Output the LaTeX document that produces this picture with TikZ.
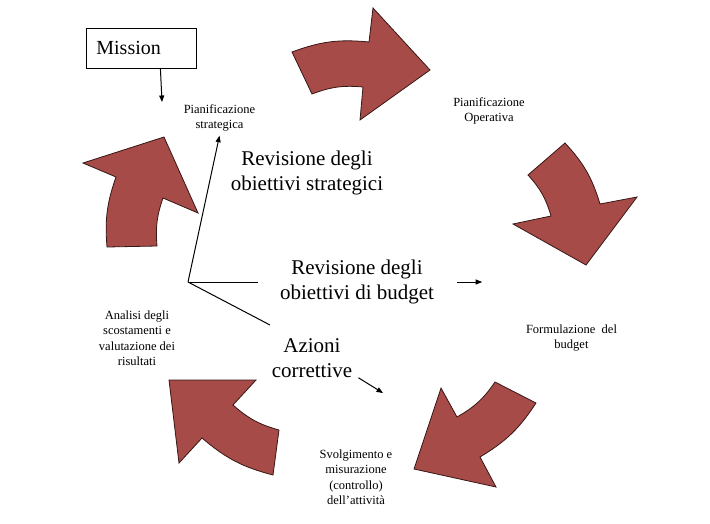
\documentclass[tikz,border=0pt]{standalone}
\usepackage{fontspec}
\setmainfont{Liberation Serif}
\usetikzlibrary{arrows.meta}
\definecolor{arrowred}{RGB}{166,75,71}
\definecolor{arrowedge}{RGB}{55,22,22}

\begin{document}
\begin{tikzpicture}[x=1pt, y=-1pt, >={Triangle[length=6.5pt,width=5pt]},
  bigarrow/.style={fill=arrowred, draw=arrowedge, line width=0.8pt},
  small/.style={font=\fontsize{12.5}{15.5}\selectfont, align=center, inner sep=0pt},
  large/.style={font=\fontsize{21}{25}\selectfont, align=center, inner sep=0pt},
  conn/.style={line width=1pt}]
  \useasboundingbox (0,0) rectangle (710,523);

  % Cycle arrows
  \draw[bigarrow] (292,52) to[bend left=13] (369,42) -- (373,8) -- (430,70)
    -- (360,120) -- (363,87) to[bend right=13] (312,94) -- cycle;
  \draw[bigarrow] (565,143) to[bend left=13] (600,204) -- (637,197) -- (586,265)
    -- (513,224) -- (551,216) to[bend right=13] (528,175) -- cycle;
  \draw[bigarrow] (536,403) to[bend left=13] (480,457) -- (496,487) -- (414,469)
    -- (441,388) -- (457,417) to[bend right=13] (495,382) -- cycle;
  \draw[bigarrow] (273,475) to[bend left=13] (202,438) -- (179,463) -- (169,380)
    -- (256,380) -- (233,405) to[bend right=13] (279,430) -- cycle;
  \draw[bigarrow] (107,247) to[bend left=12] (116,177) -- (83,163) -- (164,137)
    -- (198,213) -- (163,198) to[bend right=12] (157,246) -- cycle;

  % Mission
  \node[draw, line width=0.8pt, anchor=west, text width=90pt, inner xsep=10pt,
        minimum height=40pt, align=left, font=\fontsize{20}{24}\selectfont]
        (mission) at (86,48) {Mission};

  % Phases
  \node[small] (strat) at (219.5,118) {Pianificazione\\strategica};
  \node[small] (oper) at (489,111) {Pianificazione\\Operativa};
  \node[small] (formul) at (571.5,338) {Formulazione\ \ del\\budget};
  \node[small] (svolg) at (356,477) {Svolgimento e\\misurazione\\(controllo)\\dell’attività};
  \node[small] (analisi) at (137,338) {Analisi degli\\scostamenti e\\valutazione dei\\risultati};

  % Feedback
  \node[large] (revstrat) at (307,173) {Revisione degli\\obiettivi strategici};
  \node[large] (revbudget) at (357,282) {Revisione degli\\obiettivi di budget};
  \node[large] (azioni) at (312,358) {Azioni\\correttive};

  \coordinate (hub) at (188,282);
  \coordinate (budgetend) at (258,282);
  \coordinate (azioniend) at (270,325);
  \coordinate (misstip) at (162,102);
  \coordinate (azionitip) at (383,393);

  \draw[conn, ->] ([xshift=19pt]mission.south) -- (misstip);
  \draw[conn, ->] (hub) -- ([yshift=-4pt]strat.south);
  \draw[conn] (hub) -- (budgetend);
  \draw[conn] (hub) -- (azioniend);
  \draw[conn, ->] ([xshift=23pt]revbudget.east) -- ++(25,0);
  \draw[conn, ->] ([xshift=6pt]azioni.south east) -- (azionitip);
\end{tikzpicture}
\end{document}
